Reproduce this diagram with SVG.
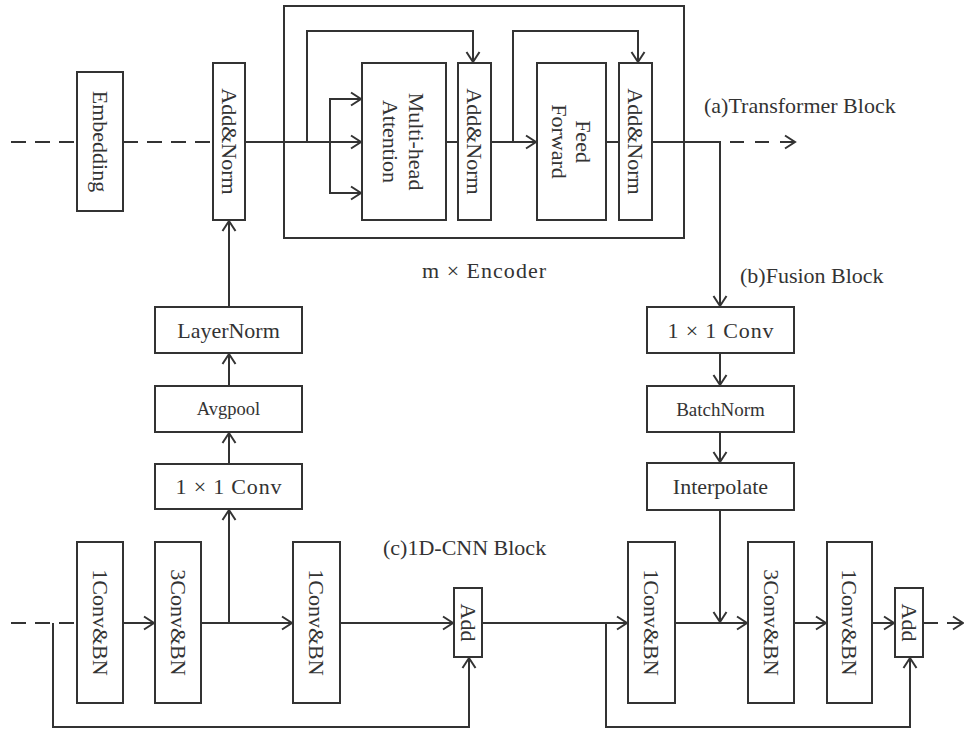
<svg xmlns="http://www.w3.org/2000/svg" width="964" height="730" viewBox="0 0 964 730">
<defs>
<marker id="ah" markerUnits="userSpaceOnUse" markerWidth="14" markerHeight="16" viewBox="-12 -8 14 16" refX="0" refY="0" orient="auto">
<path d="M-10,-6.5 L0,0 L-10,6.5" fill="none" stroke="#333" stroke-width="2"/>
</marker>
</defs>
<style>
.box{fill:#fff;stroke:#333;stroke-width:2}
.ln{fill:none;stroke:#333;stroke-width:2}
.ar{fill:none;stroke:#333;stroke-width:2;marker-end:url(#ah)}
.dash{stroke-dasharray:15 9}
text{font-family:"Liberation Serif","Times New Roman",serif;font-size:22px;fill:#333}
.c{text-anchor:middle;dominant-baseline:central}
</style>
<rect width="964" height="730" fill="#fff"/>

<g id="encoder-frame"><rect x="284" y="6" width="400" height="232" class="ln"/></g>

<g id="connectors">
<line x1="11" y1="142" x2="77" y2="142" class="ln dash"/>
<line x1="123" y1="142" x2="213" y2="142" class="ln dash"/>
<line x1="245" y1="142" x2="361" y2="142" class="ar"/>
<polyline points="307,142 307,31 473,31 473,62" class="ar"/>
<polyline points="330,142 330,99 361,99" class="ar"/>
<polyline points="330,142 330,193 361,193" class="ar"/>
<line x1="446" y1="142" x2="458" y2="142" class="ln"/>
<line x1="491" y1="142" x2="536" y2="142" class="ar"/>
<polyline points="513,142 513,31 638,31 638,62" class="ar"/>
<line x1="606" y1="142" x2="619" y2="142" class="ln"/>
<polyline points="652,142 720,142 720,306" class="ar"/>
<line x1="730" y1="142" x2="795" y2="142" class="ar" stroke-dasharray="14 11"/>
<line x1="229" y1="623" x2="229" y2="510" class="ar"/>
<line x1="229" y1="464" x2="229" y2="433" class="ar"/>
<line x1="229" y1="386" x2="229" y2="354" class="ar"/>
<line x1="229" y1="307" x2="229" y2="221" class="ar"/>
<line x1="720" y1="353" x2="720" y2="385" class="ar"/>
<line x1="720" y1="432" x2="720" y2="462" class="ar"/>
<line x1="720" y1="510" x2="720" y2="622" class="ar"/>
<line x1="11" y1="623" x2="77" y2="623" class="ln dash"/>
<line x1="123" y1="623" x2="154" y2="623" class="ar"/>
<line x1="201" y1="623" x2="292" y2="623" class="ar"/>
<line x1="340" y1="623" x2="453" y2="623" class="ar"/>
<polyline points="53,623 53,727 469,727 469,658" class="ar"/>
<line x1="482" y1="623" x2="627" y2="623" class="ar"/>
<polyline points="606,623 606,727 910,727 910,658" class="ar"/>
<line x1="675" y1="623" x2="747" y2="623" class="ar"/>
<line x1="794" y1="623" x2="826" y2="623" class="ar"/>
<line x1="872" y1="623" x2="894" y2="623" class="ar"/>
<line x1="923" y1="623" x2="963" y2="623" class="ar dash"/>
</g>

<g id="embedding"><rect x="77" y="72" width="46" height="139" class="box"/><text class="c" transform="translate(100,141.5) rotate(90)">Embedding</text></g>
<g id="addnorm0"><rect x="213" y="63" width="32" height="157" class="box"/><text class="c" transform="translate(229,141.5) rotate(90)">Add&amp;Norm</text></g>
<g id="mha"><rect x="362" y="63" width="84" height="157" class="box"/><text class="c" transform="translate(404,141.5) rotate(90)"><tspan x="0" y="-13">Multi-head</tspan><tspan x="0" y="13">Attention</tspan></text></g>
<g id="addnorm1"><rect x="458" y="63" width="33" height="157" class="box"/><text class="c" transform="translate(474.5,141.5) rotate(90)">Add&amp;Norm</text></g>
<g id="ff"><rect x="537" y="63" width="69" height="157" class="box"/><text class="c" transform="translate(571.5,141.5) rotate(90)"><tspan x="0" y="-12">Feed</tspan><tspan x="0" y="12">Forward</tspan></text></g>
<g id="addnorm2"><rect x="619" y="63" width="33" height="157" class="box"/><text class="c" transform="translate(635.5,141.5) rotate(90)">Add&amp;Norm</text></g>

<g id="layernorm"><rect x="155" y="307" width="147" height="46" class="box"/><text class="c" x="228.5" y="330">LayerNorm</text></g>
<g id="avgpool"><rect x="155" y="386" width="147" height="46" class="box"/><text class="c" x="228.5" y="409" style="font-size:18.5px">Avgpool</text></g>
<g id="conv1x1-left"><rect x="155" y="464" width="147" height="45" class="box"/><text class="c" x="228.5" y="486.5" textLength="106" lengthAdjust="spacing">1 × 1 Conv</text></g>

<g id="conv1x1-right"><rect x="647" y="307" width="147" height="46" class="box"/><text class="c" x="720.5" y="330" textLength="106" lengthAdjust="spacing">1 × 1 Conv</text></g>
<g id="batchnorm"><rect x="647" y="386" width="147" height="46" class="box"/><text class="c" x="720.5" y="409" style="font-size:19px">BatchNorm</text></g>
<g id="interpolate"><rect x="647" y="463" width="147" height="47" class="box"/><text class="c" x="720.5" y="486.5">Interpolate</text></g>

<g id="c1"><rect x="77" y="542" width="46" height="161" class="box"/><text class="c" transform="translate(100,622.5) rotate(90)">1Conv&amp;BN</text></g>
<g id="c2"><rect x="155" y="542" width="46" height="161" class="box"/><text class="c" transform="translate(178,622.5) rotate(90)">3Conv&amp;BN</text></g>
<g id="c3"><rect x="293" y="542" width="47" height="161" class="box"/><text class="c" transform="translate(316.5,622.5) rotate(90)">1Conv&amp;BN</text></g>
<g id="add1"><rect x="454" y="588" width="28" height="69" class="box"/><text class="c" transform="translate(468,622.5) rotate(90)">Add</text></g>
<g id="c4"><rect x="628" y="542" width="47" height="161" class="box"/><text class="c" transform="translate(651.5,622.5) rotate(90)">1Conv&amp;BN</text></g>
<g id="c5"><rect x="748" y="542" width="46" height="161" class="box"/><text class="c" transform="translate(771,622.5) rotate(90)">3Conv&amp;BN</text></g>
<g id="c6"><rect x="827" y="542" width="45" height="161" class="box"/><text class="c" transform="translate(849.5,622.5) rotate(90)">1Conv&amp;BN</text></g>
<g id="add2"><rect x="895" y="588" width="28" height="69" class="box"/><text class="c" transform="translate(909,622.5) rotate(90)">Add</text></g>

<g id="labels">
<text x="704" y="113">(a)Transformer Block</text>
<text x="740" y="283">(b)Fusion Block</text>
<text x="383" y="555">(c)1D-CNN Block</text>
<text x="422" y="278" textLength="124" lengthAdjust="spacing">m × Encoder</text>
</g>
</svg>
